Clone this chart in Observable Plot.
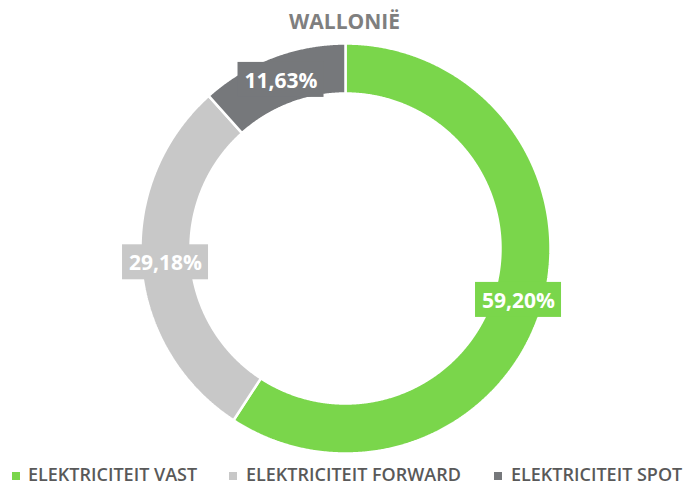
<!DOCTYPE html>
<html>
<head>
<meta charset="utf-8">
<script src="https://cdn.jsdelivr.net/npm/d3@7"></script>
<script src="https://cdn.jsdelivr.net/npm/@observablehq/plot@0.6"></script>
<style>
  html, body { margin: 0; padding: 0; background: #fff; }
  body { width: 689px; height: 486px; overflow: hidden; font-family: "Open Sans", sans-serif; }
  #title { height: 42px; text-align: center; font-size: 21px; font-weight: bold; color: #7f7f7f; line-height: 42px; position: relative; top: 0px; }
  #legend { position: relative; height: 24px; font-size: 18px; font-weight: 600; color: #595959; }
  .item { position: absolute; top: 0; height: 24px; line-height: 24px; white-space: nowrap; }
  .sw { position: absolute; top: 10px; width: 8px; height: 8px; }
</style>
</head>
<body>
<div id="title">WALLONIË</div>
<div id="chart"></div>
<div id="legend"></div>
<script>
const title = "WALLONIË";
const categories = ["ELEKTRICITEIT VAST", "ELEKTRICITEIT FORWARD", "ELEKTRICITEIT SPOT"];
const values = [59.20, 29.18, 11.63];
const labels = ["59,20%", "29,18%", "11,63%"];
const colors = ["#7AD64B", "#C8C8C8", "#76787B"];

const W = 689, H = 420;
const cx = 345, cy = 206, R = 205;
const rOuter = 1.0, rInner = 155 / R, rLabel = 180.5 / R;

const pie = d3.pie().sort(null).value(d => d)(values);

// build ring polygons from pie angles
const ring = [];
pie.forEach((p, i) => {
  const n = Math.max(8, Math.ceil((p.endAngle - p.startAngle) / 0.005));
  for (let k = 0; k <= n; k++) {
    const a = p.startAngle + (p.endAngle - p.startAngle) * k / n;
    ring.push({cat: categories[i], x: rOuter * Math.sin(a), y: rOuter * Math.cos(a)});
  }
  for (let k = n; k >= 0; k--) {
    const a = p.startAngle + (p.endAngle - p.startAngle) * k / n;
    ring.push({cat: categories[i], x: rInner * Math.sin(a), y: rInner * Math.cos(a)});
  }
});

const hw = 43 / R, hh = 17.5 / R;
const lab = pie.map((p, i) => {
  const a = (p.startAngle + p.endAngle) / 2;
  const x = rLabel * Math.sin(a), y = rLabel * Math.cos(a);
  return {cat: categories[i], label: labels[i], x, y, x1: x - hw, x2: x + hw, y1: y - hh, y2: y + hh};
});

const chart = Plot.plot({
  width: W, height: H,
  margin: 0,
  x: {domain: [-1, 1], range: [cx - R, cx + R], axis: null},
  y: {domain: [-1, 1], range: [cy + R, cy - R], axis: null},
  color: {domain: categories, range: colors},
  style: {background: "white", overflow: "visible"},
  marks: [
    Plot.line(ring, {x: "x", y: "y", z: "cat", fill: "cat", stroke: "white", strokeWidth: 2.5, curve: "linear-closed", strokeLinejoin: "miter"}),
    Plot.rect(lab, {x1: "x1", x2: "x2", y1: "y1", y2: "y2", fill: "cat"}),
    Plot.text(lab, {x: "x", y: "y", text: "label", fill: "white", fontSize: 21, fontWeight: "bold", fontFamily: "Open Sans", dy: 1})
  ]
});
document.getElementById("chart").appendChild(chart);

const legendPos = [{sw: 12, tx: 28}, {sw: 229, tx: 246}, {sw: 494, tx: 511}];
const leg = document.getElementById("legend");
categories.forEach((c, i) => {
  const sw = document.createElement("div");
  sw.className = "sw";
  sw.style.left = legendPos[i].sw + "px";
  sw.style.background = colors[i];
  leg.appendChild(sw);
  const t = document.createElement("div");
  t.className = "item";
  t.style.left = legendPos[i].tx + "px";
  t.textContent = c;
  leg.appendChild(t);
});
</script>
</body>
</html>
